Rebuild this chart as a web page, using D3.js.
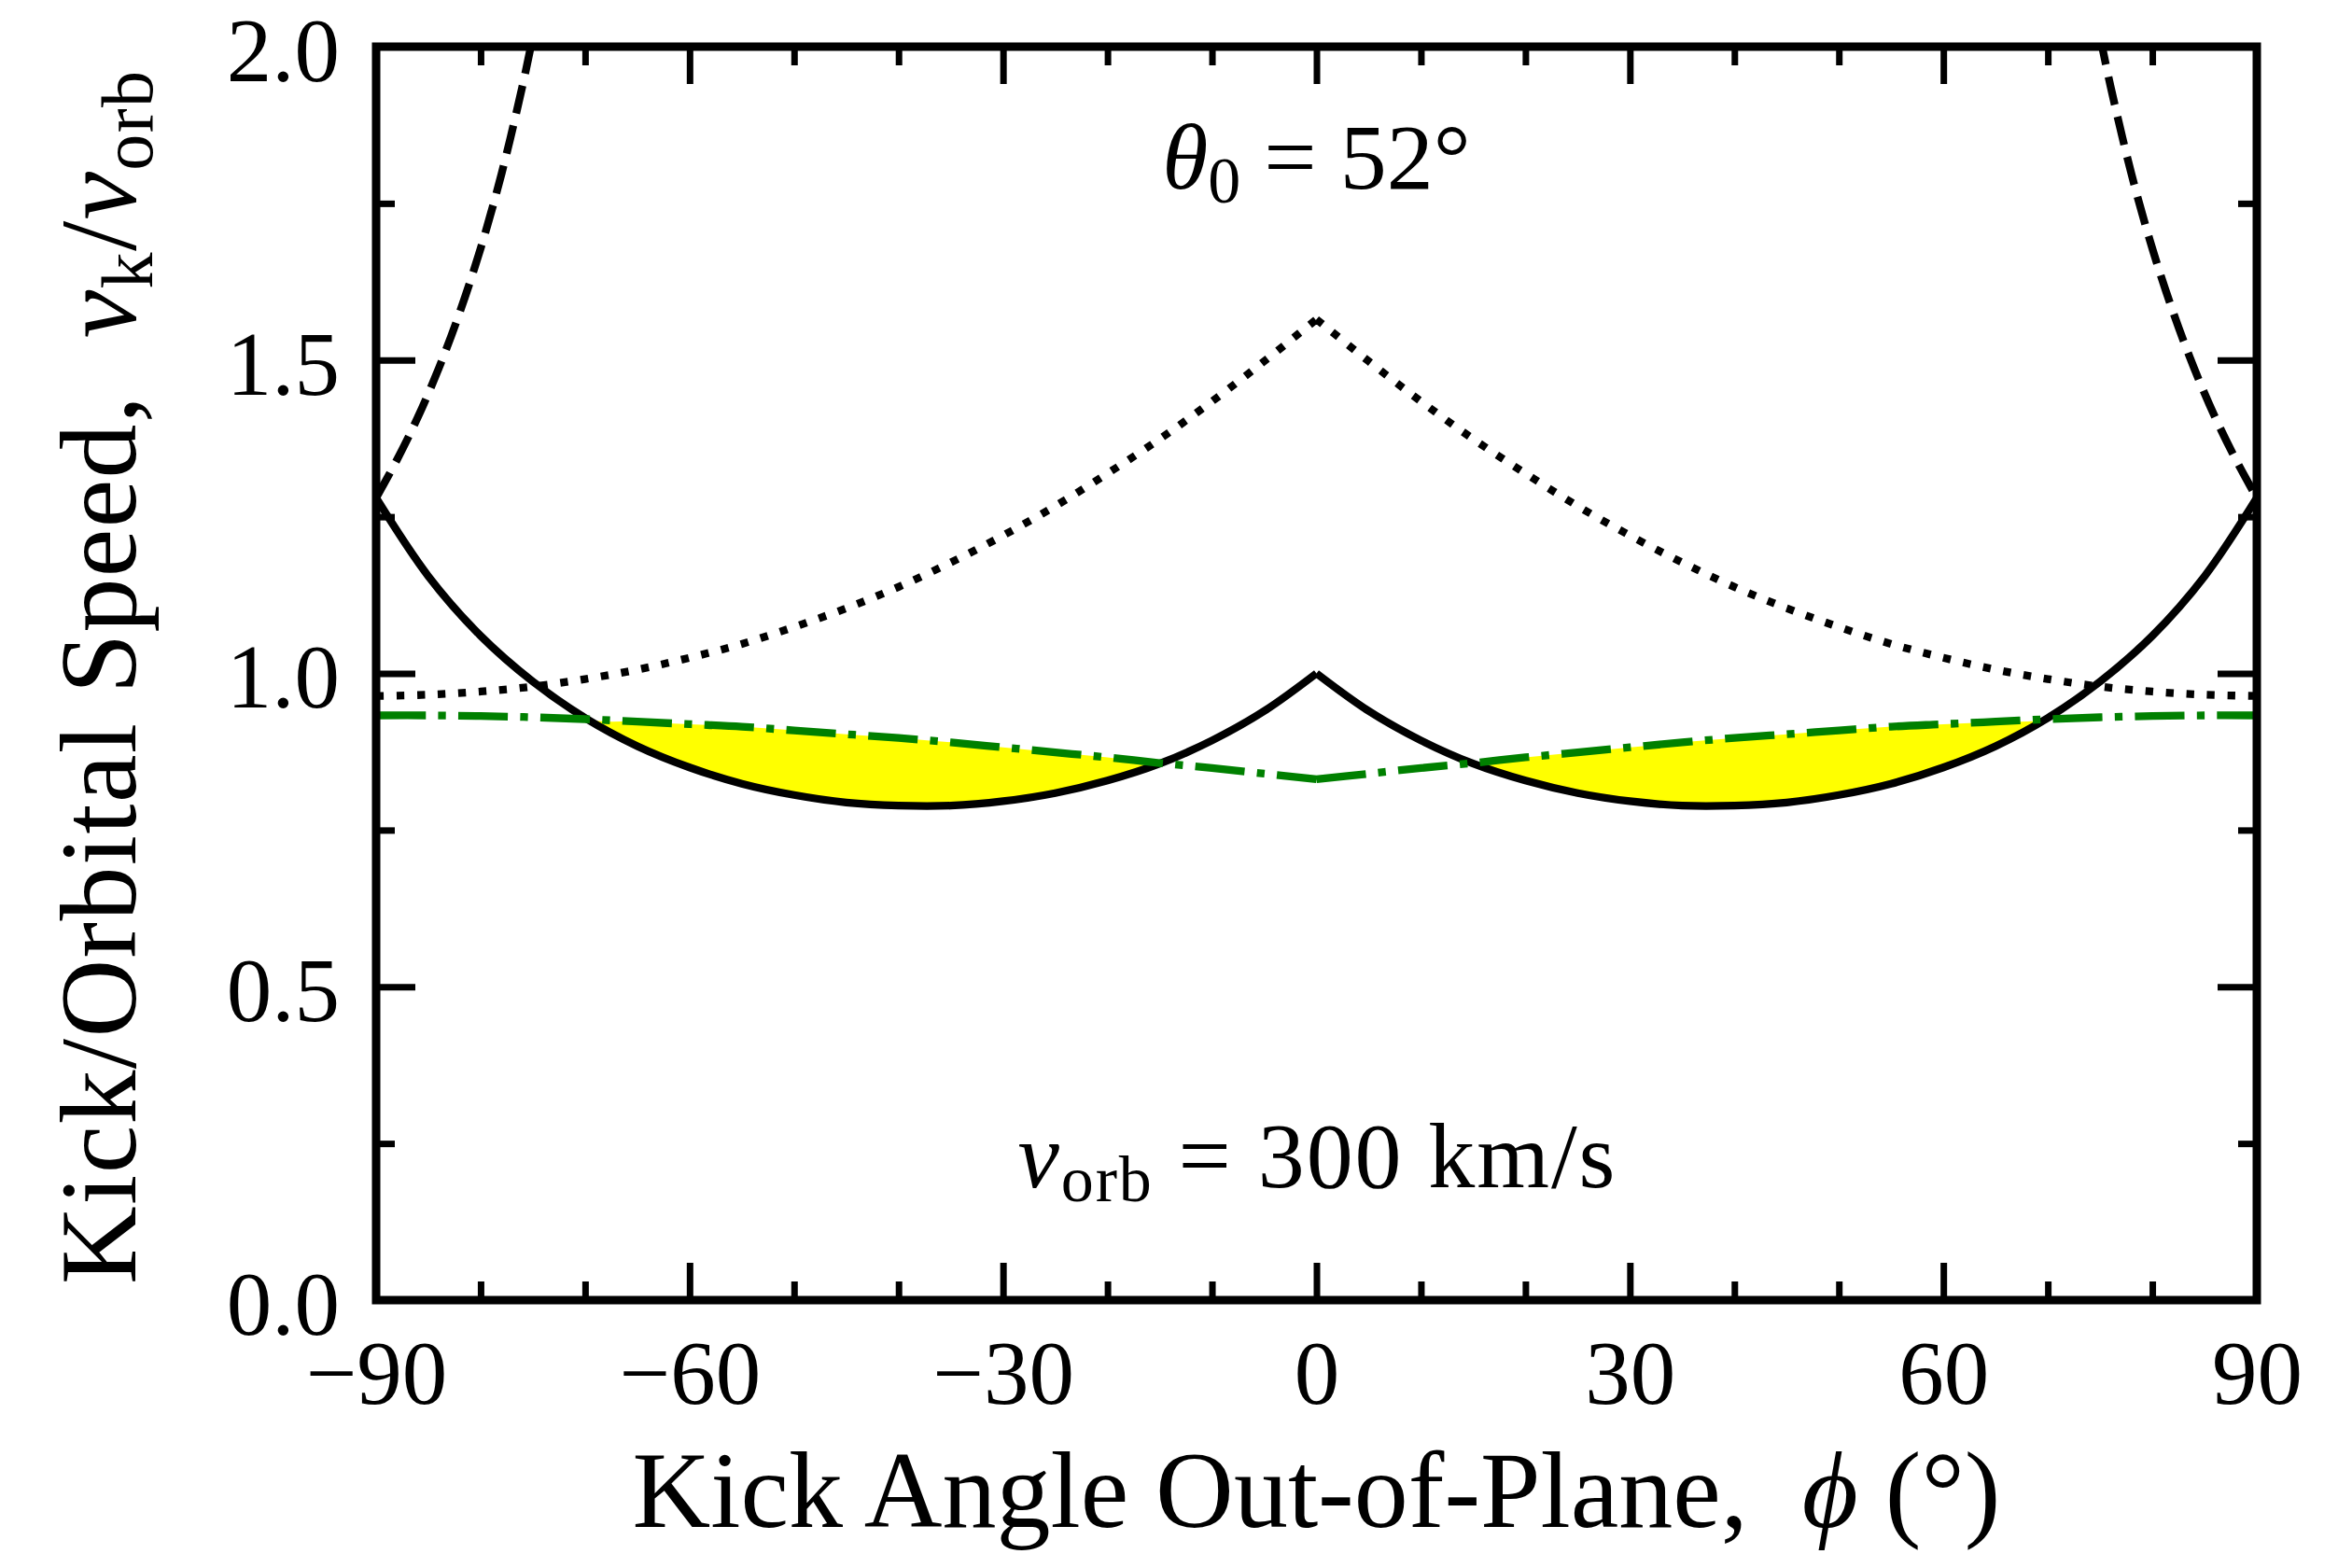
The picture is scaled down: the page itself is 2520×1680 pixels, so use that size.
<!DOCTYPE html>
<html>
<head>
<meta charset="utf-8">
<script src="https://cdn.jsdelivr.net/npm/d3@7"></script>
<style>
  html, body { margin: 0; padding: 0; background: #fff; }
  svg text { font-family: "Liberation Serif", "DejaVu Serif", serif; fill: #000; }
</style>
</head>
<body>
<div id="chart"></div>
<script>
// kick angle out of plane (deg), 5 deg grid
const phiGrid = [-90,-85,-80,-75,-70,-65,-60,-55,-50,-45,-40,-35,-30,-25,-20,-15,-10,-5,0,
                 5,10,15,20,25,30,35,40,45,50,55,60,65,70,75,80,85,90];

// solid black curve
const solidCurve = [1.280,1.155,1.060,0.987,0.929,0.884,0.850,0.824,0.806,0.794,0.789,0.789,0.796,0.809,0.829,0.856,0.893,0.940,1.000,
                    0.940,0.893,0.856,0.829,0.809,0.796,0.789,0.789,0.794,0.806,0.824,0.850,0.884,0.929,0.987,1.060,1.155,1.280];

// dotted black curve
const dottedCurve = [0.964,0.966,0.971,0.979,0.991,1.006,1.025,1.047,1.074,1.104,1.138,1.177,1.220,1.267,1.319,1.374,1.434,1.498,1.565,
                     1.498,1.434,1.374,1.319,1.267,1.220,1.177,1.138,1.104,1.074,1.047,1.025,1.006,0.991,0.979,0.971,0.966,0.964];

// green dash-dot curve
const greenCurve = [0.933,0.933,0.932,0.930,0.927,0.923,0.919,0.915,0.909,0.903,0.897,0.890,0.882,0.874,0.866,0.857,0.849,0.840,0.831,
                    0.840,0.849,0.857,0.866,0.874,0.882,0.890,0.897,0.903,0.909,0.915,0.919,0.923,0.927,0.930,0.932,0.933,0.933];

// dashed branches near the edges
const dashPhiLeft = [-90,-88,-86,-84,-82,-80,-78,-76,-75];
const dashPhiRight = [75,76,78,80,82,84,86,88,90];
const dashLeft = [1.280,1.341,1.409,1.487,1.576,1.678,1.797,1.937,2.016];
const dashRight = [2.016,1.937,1.797,1.678,1.576,1.487,1.409,1.341,1.280];

const xMajorTicks = [-90,-60,-30,0,30,60,90];
const xMinorTicks = [-80,-70,-50,-40,-20,-10,10,20,40,50,70,80];
const yMajorTicks = [0,0.5,1.0,1.5,2.0];
const yMinorTicks = [0.25,0.75,1.25,1.75];

const W = 2520, H = 1680;
const plot = { left: 403, right: 2418, top: 50, bottom: 1393 };
const lw = 8.3;

const svg = d3.select("#chart").append("svg")
  .attr("width", W).attr("height", H)
  .attr("viewBox", `0 0 ${W} ${H}`);

const x = d3.scaleLinear().domain([-90, 90]).range([plot.left, plot.right]);
const y = d3.scaleLinear().domain([0, 2]).range([plot.bottom, plot.top]);

svg.append("defs").append("clipPath").attr("id", "plotClip")
  .append("rect")
  .attr("x", plot.left).attr("y", plot.top)
  .attr("width", plot.right - plot.left).attr("height", plot.bottom - plot.top);

const pts = (ys) => phiGrid.map((p, i) => ({ phi: p, v: ys[i] }));
const halves = (arr) => [arr.filter(d => d.phi <= 0), arr.filter(d => d.phi >= 0)];

const line = d3.line()
  .x(d => x(d.phi)).y(d => y(d.v))
  .curve(d3.curveCatmullRom.alpha(0.5));

const g = svg.append("g").attr("clip-path", "url(#plotClip)");

// yellow region where the solid curve lies below the green one
const fillPts = phiGrid.map((p, i) => ({ phi: p, lo: solidCurve[i], hi: Math.max(solidCurve[i], greenCurve[i]) }));
const area = d3.area()
  .x(d => x(d.phi)).y0(d => y(d.lo)).y1(d => y(d.hi))
  .curve(d3.curveCatmullRom.alpha(0.5));
halves(fillPts).forEach(h => {
  g.append("path").attr("d", area(h)).attr("fill", "#ffff00").attr("stroke", "none");
});

// solid
halves(pts(solidCurve)).forEach(h => {
  g.append("path").attr("d", line(h))
    .attr("fill", "none").attr("stroke", "#000").attr("stroke-width", lw)
    .attr("stroke-linejoin", "round");
});

// dashed
[[dashPhiLeft, dashLeft], [dashPhiRight, dashRight]].forEach(([ps, vs]) => {
  g.append("path").attr("d", line(ps.map((p, i) => ({ phi: p, v: vs[i] }))))
    .attr("fill", "none").attr("stroke", "#000").attr("stroke-width", lw)
    .attr("stroke-dasharray", `${3.7 * lw},${1.6 * lw}`);
});

// dotted
g.append("path")
  .attr("d", halves(pts(dottedCurve)).map(h => line(h)).join(""))
  .attr("fill", "none").attr("stroke", "#000").attr("stroke-width", lw)
  .attr("stroke-dasharray", `${lw},${1.65 * lw}`);

// green dash-dot
g.append("path")
  .attr("d", halves(pts(greenCurve)).map(h => line(h)).join(""))
  .attr("fill", "none").attr("stroke", "#008000").attr("stroke-width", lw)
  .attr("stroke-dasharray", `${6.4 * lw},${1.6 * lw},${lw},${1.6 * lw}`);

// axes, ticks inward on all four sides
const tickFont = 97;
const styleAxis = (sel) => {
  sel.select(".domain").remove();
  sel.selectAll(".tick line").attr("stroke", "#000").attr("stroke-width", 7);
  sel.selectAll("text").style("font-size", tickFont + "px").attr("fill", "#000");
};

const xFmt = d3.format("d");
svg.append("g").attr("transform", `translate(0,${plot.bottom})`)
  .call(d3.axisBottom(x).tickValues(xMajorTicks).tickSize(-40).tickPadding(42).tickFormat(xFmt))
  .call(styleAxis);
svg.append("g").attr("transform", `translate(0,${plot.bottom})`)
  .call(d3.axisBottom(x).tickValues(xMinorTicks).tickSize(-20).tickFormat(""))
  .call(styleAxis);
svg.append("g").attr("transform", `translate(0,${plot.top})`)
  .call(d3.axisTop(x).tickValues(xMajorTicks).tickSize(-40).tickFormat(""))
  .call(styleAxis);
svg.append("g").attr("transform", `translate(0,${plot.top})`)
  .call(d3.axisTop(x).tickValues(xMinorTicks).tickSize(-20).tickFormat(""))
  .call(styleAxis);

svg.append("g").attr("transform", `translate(${plot.left},0)`)
  .call(d3.axisLeft(y).tickValues(yMajorTicks).tickSize(-42).tickPadding(39).tickFormat(d3.format(".1f")))
  .call(styleAxis)
  .call(sel => sel.selectAll("text").attr("dy", "0.375em"));
svg.append("g").attr("transform", `translate(${plot.left},0)`)
  .call(d3.axisLeft(y).tickValues(yMinorTicks).tickSize(-20).tickFormat(""))
  .call(styleAxis);
svg.append("g").attr("transform", `translate(${plot.right},0)`)
  .call(d3.axisRight(y).tickValues(yMajorTicks).tickSize(-42).tickFormat(""))
  .call(styleAxis);
svg.append("g").attr("transform", `translate(${plot.right},0)`)
  .call(d3.axisRight(y).tickValues(yMinorTicks).tickSize(-20).tickFormat(""))
  .call(styleAxis);

// frame
svg.append("rect")
  .attr("x", plot.left).attr("y", plot.top)
  .attr("width", plot.right - plot.left).attr("height", plot.bottom - plot.top)
  .attr("fill", "none").attr("stroke", "#000").attr("stroke-width", 9);

// axis titles
const titleFont = 116;
const xTitle = svg.append("text")
  .attr("x", (plot.left + plot.right) / 2).attr("y", 1636)
  .attr("text-anchor", "middle")
  .style("font-size", titleFont + "px")
  .style("white-space", "pre");
xTitle.append("tspan").text("Kick Angle Out-of-Plane,  ");
xTitle.append("tspan").style("font-style", "italic").text("ϕ");
xTitle.append("tspan").text(" (°)");

const yTitle = svg.append("text")
  .attr("transform", `translate(145,726) rotate(-90)`)
  .attr("text-anchor", "middle")
  .attr("textLength", 1300)
  .attr("lengthAdjust", "spacing")
  .style("font-size", titleFont + "px")
  .style("white-space", "pre");
yTitle.append("tspan").text("Kick/Orbital Speed,  ");
yTitle.append("tspan").style("font-style", "italic").text("v");
yTitle.append("tspan").attr("dy", 18).style("font-size", "78px").text("k");
yTitle.append("tspan").attr("dy", -18).text("/");
yTitle.append("tspan").style("font-style", "italic").text("v");
yTitle.append("tspan").attr("dy", 18).style("font-size", "78px").text("orb");

// annotations
const annFont = 100;
const thetaLabel = svg.append("text")
  .attr("x", (plot.left + plot.right) / 2).attr("y", 202)
  .attr("text-anchor", "middle")
  .style("font-size", annFont + "px")
  .style("white-space", "pre");
thetaLabel.append("tspan").style("font-style", "italic").text("θ");
thetaLabel.append("tspan").attr("dy", 15).style("font-size", "70px").text("0");
thetaLabel.append("tspan").attr("dy", -15).text(" = 52°");

const vLabel = svg.append("text")
  .attr("x", (plot.left + plot.right) / 2).attr("y", 1272)
  .attr("text-anchor", "middle")
  .attr("textLength", 640)
  .attr("lengthAdjust", "spacing")
  .style("font-size", annFont + "px")
  .style("white-space", "pre");
vLabel.append("tspan").style("font-style", "italic").text("v");
vLabel.append("tspan").attr("dy", 15).style("font-size", "70px").text("orb");
vLabel.append("tspan").attr("dy", -15).text(" = 300 km/s");
</script>
</body>
</html>
